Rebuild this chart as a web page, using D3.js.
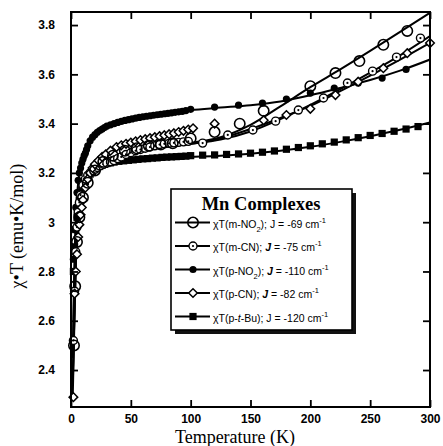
<!DOCTYPE html>
<html><head><meta charset="utf-8">
<script src="https://cdn.jsdelivr.net/npm/d3@7"></script>
<style>body{margin:0;background:#fff}svg{display:block}</style>
</head><body>
<svg id="c" width="443" height="446"></svg>
<script>
// ---- data ----
const xTicks = [0, 50, 100, 150, 200, 250, 300];
const yTicks = [2.4, 2.6, 2.8, 3.0, 3.2, 3.4, 3.6, 3.8];

// m-NO2 (large open circles)
const mno2T = [2.5,3.5,5,7,10,14,20,27,35,45,55,65,75,85,100,120,141,161,200,221,241,261,281];
const mno2V = [2.50,2.74,2.92,3.02,3.10,3.16,3.21,3.245,3.27,3.29,3.30,3.31,3.315,3.32,3.34,3.366,3.40,3.452,3.552,3.605,3.654,3.72,3.776];
const mno2FitT = [1.5,2.5,4,6,9,14,20,30,50,75,100,125,150,175,200,225,250,275,300];
const mno2FitV = [2.38,2.56,2.84,3.02,3.12,3.18,3.22,3.255,3.285,3.305,3.322,3.345,3.395,3.47,3.548,3.62,3.695,3.772,3.85];

// m-CN (circle with dot)
const mcnT = [2,3,4,5,6,7,8,10,12,14,16,18,20,22,24,27,30,33,36,39,42,46,50,54,58,62,66,70,74,78,82,86,90,94,98,110,131,152,171,190,211,231,252,272,292];
const mcnV = [2.52,2.72,2.88,2.98,3.04,3.08,3.11,3.15,3.175,3.19,3.20,3.21,3.215,3.222,3.228,3.235,3.24,3.245,3.25,3.258,3.265,3.275,3.282,3.29,3.295,3.30,3.305,3.31,3.315,3.318,3.32,3.322,3.324,3.326,3.328,3.321,3.354,3.374,3.41,3.455,3.504,3.565,3.613,3.67,3.747];
const mcnFitT = [1.5,2.5,4,6,9,14,20,30,50,75,100,125,150,175,200,225,250,275,300];
const mcnFitV = [2.34,2.55,2.85,3.01,3.11,3.18,3.22,3.255,3.285,3.305,3.318,3.335,3.368,3.418,3.476,3.54,3.607,3.677,3.755];

// p-NO2 (filled circles)
const pno2T = [2,3,4,5,6,7,8,9,10,11,12,13,14,16,18,20,22,24,26,28,30,33,36,39,42,45,48,51,54,57,60,63,66,69,72,75,78,81,84,87,90,93,96,100,120,140,160,180,200,220,240,260,280];
const pno2V = [2.85,2.97,3.06,3.12,3.17,3.20,3.22,3.24,3.255,3.27,3.28,3.295,3.31,3.33,3.345,3.355,3.365,3.372,3.378,3.384,3.39,3.395,3.40,3.405,3.409,3.413,3.416,3.419,3.422,3.425,3.428,3.43,3.432,3.434,3.436,3.438,3.44,3.442,3.444,3.446,3.448,3.45,3.453,3.458,3.467,3.475,3.483,3.50,3.524,3.544,3.565,3.585,3.62];
const pno2FitT = [1.5,2.5,4,6,9,14,20,30,50,75,100,125,150,175,200,225,250,275,300];
const pno2FitV = [2.45,2.75,3.02,3.16,3.25,3.31,3.35,3.39,3.42,3.44,3.455,3.465,3.475,3.49,3.515,3.545,3.577,3.615,3.66];

// p-CN (open diamonds)
const pcnT = [2,3,4,5,6,7,8,9,10,12,14,16,18,20,23,26,29,33,38,42,46,50,54,58,62,66,70,74,78,82,86,90,94,98,102,120,161,180,200,221,240,261,281,300];
const pcnV = [2.29,2.71,2.80,2.87,2.94,2.99,3.03,3.06,3.09,3.14,3.175,3.20,3.22,3.235,3.25,3.265,3.275,3.29,3.305,3.312,3.318,3.323,3.328,3.333,3.337,3.341,3.345,3.349,3.353,3.357,3.361,3.366,3.371,3.376,3.381,3.40,3.414,3.435,3.46,3.516,3.57,3.625,3.686,3.727];
const pcnFitT = [1.5,2.5,4,6,9,14,20,30,50,75,100,125,150,175,200,225,250,275,300];
const pcnFitV = [2.30,2.52,2.83,3.00,3.10,3.17,3.215,3.25,3.282,3.303,3.318,3.34,3.378,3.423,3.472,3.532,3.595,3.66,3.728];

// p-t-Bu (filled squares)
const ptbuT = [2,3,4,5,6,7,8,9,10,12,14,16,18,20,22,24,26,28,30,33,36,40,44,48,52,56,60,64,68,72,76,80,84,88,92,96,100,110,120,130,140,150,160,170,180,190,200,210,220,230,240,250,260,270,280,290];
const ptbuV = [2.80,2.90,2.97,3.02,3.06,3.09,3.11,3.13,3.145,3.165,3.18,3.195,3.205,3.213,3.22,3.226,3.231,3.235,3.238,3.241,3.244,3.247,3.249,3.251,3.253,3.255,3.257,3.258,3.26,3.261,3.263,3.264,3.265,3.266,3.267,3.268,3.27,3.272,3.273,3.275,3.277,3.28,3.284,3.289,3.296,3.303,3.31,3.318,3.325,3.334,3.343,3.352,3.36,3.369,3.378,3.388];
const ptbuFitT = [1.5,2.5,4,6,9,14,20,30,50,75,100,125,150,175,200,225,250,275,300];
const ptbuFitV = [2.45,2.70,2.92,3.05,3.13,3.18,3.21,3.235,3.25,3.26,3.265,3.27,3.278,3.29,3.306,3.326,3.349,3.375,3.405];

const seriesNames = ["m-NO2","m-CN","p-NO2","p-CN","p-t-Bu"];

// ---- chart ----
const svg = d3.select("#c");
const x = d3.scaleLinear().domain([0, 300]).range([71, 430]);
const y = d3.scaleLinear().domain([2.25, 3.853]).range([407, 12]);

const zip = (a, b) => a.map((t, i) => [t, b[i]]);
const series = [
  {name: "m-NO2", pts: zip(mno2T, mno2V), fit: zip(mno2FitT, mno2FitV), m: "bigcircle"},
  {name: "m-CN", pts: zip(mcnT, mcnV), fit: zip(mcnFitT, mcnFitV), m: "dotcircle"},
  {name: "p-NO2", pts: zip(pno2T, pno2V), fit: zip(pno2FitT, pno2FitV), m: "filledcircle"},
  {name: "p-CN", pts: zip(pcnT, pcnV), fit: zip(pcnFitT, pcnFitV), m: "diamond"},
  {name: "p-t-Bu", pts: zip(ptbuT, ptbuV), fit: zip(ptbuFitT, ptbuFitV), m: "square"}
];

const plot = svg.append("g");
svg.append("defs").append("clipPath").attr("id","clip").append("rect")
  .attr("x",71).attr("y",12).attr("width",359).attr("height",395);

const line = d3.line().x(d => x(d[0])).y(d => y(d[1])).curve(d3.curveMonotoneX);

function drawMarker(g, type, cx, cy) {
  if (type === "bigcircle") {
    g.append("circle").attr("cx", cx).attr("cy", cy).attr("r", 5.2)
      .attr("fill", "none").attr("stroke", "#000").attr("stroke-width", 1.6);
  } else if (type === "dotcircle") {
    g.append("circle").attr("cx", cx).attr("cy", cy).attr("r", 4)
      .attr("fill", "#fff").attr("stroke", "#000").attr("stroke-width", 1.4);
    g.append("circle").attr("cx", cx).attr("cy", cy).attr("r", 1.1).attr("fill", "#000");
  } else if (type === "filledcircle") {
    g.append("circle").attr("cx", cx).attr("cy", cy).attr("r", 3.6).attr("fill", "#000");
  } else if (type === "diamond") {
    const s = 4.3;
    g.append("path").attr("d", `M${cx},${cy-s}L${cx+s},${cy}L${cx},${cy+s}L${cx-s},${cy}Z`)
      .attr("fill", "#fff").attr("stroke", "#000").attr("stroke-width", 1.5);
  } else if (type === "square") {
    g.append("rect").attr("x", cx-3.6).attr("y", cy-3.6).attr("width", 7.2).attr("height", 7.2).attr("fill", "#000");
  }
}

const lines = plot.append("g").attr("clip-path","url(#clip)");
series.forEach(s => {
  lines.append("path").attr("d", line(s.fit)).attr("fill","none")
    .attr("stroke","#000").attr("stroke-width",2);
});
const marks = plot.append("g");
// draw order: squares, filled circles, dot circles, diamonds, big circles
[4,2,1,3,0].forEach(i => {
  const s = series[i];
  s.pts.forEach(p => drawMarker(marks, s.m, x(p[0]), y(p[1])));
});

// axes
const fmt = d => String(+d.toFixed(1));
const axB = svg.append("g").attr("transform","translate(0,407)")
  .call(d3.axisBottom(x).tickValues(xTicks).tickSize(-7).tickPadding(7).tickFormat(d3.format("d")));
const axT = svg.append("g").attr("transform","translate(0,12)")
  .call(d3.axisTop(x).tickValues(xTicks).tickSize(-7).tickFormat(""));
const axL = svg.append("g").attr("transform","translate(71,0)")
  .call(d3.axisLeft(y).tickValues(yTicks).tickSize(-7).tickPadding(16).tickFormat(fmt));
const axR = svg.append("g").attr("transform","translate(430,0)")
  .call(d3.axisRight(y).tickValues(yTicks).tickSize(-7).tickFormat(""));
[axB, axT, axL, axR].forEach(a => {
  a.select(".domain").remove();
  a.selectAll(".tick line").attr("stroke","#000").attr("stroke-width",1.8);
  a.selectAll(".tick text").attr("fill","#000")
    .style("font-family","Arial, 'Liberation Sans', sans-serif")
    .style("font-weight","bold").style("font-size","12px");
});
svg.append("rect").attr("x",71).attr("y",12).attr("width",359).attr("height",395)
  .attr("fill","none").attr("stroke","#000").attr("stroke-width",2);

// axis titles
svg.append("text").attr("x",235).attr("y",443).attr("text-anchor","middle")
  .style("font-family","'Liberation Serif', 'Times New Roman', serif").style("font-size","18px")
  .text("Temperature (K)");
svg.append("text").attr("transform","translate(23,226) rotate(-90)").attr("text-anchor","middle")
  .style("font-family","'Liberation Serif', 'Times New Roman', serif").style("font-size","18px")
  .text("χ•T (emu•K/mol)");

// legend
const lg = svg.append("g");
lg.append("rect").attr("x",175).attr("y",193).attr("width",181).attr("height",141).attr("fill","#111");
lg.append("rect").attr("x",171).attr("y",189).attr("width",181).attr("height",141)
  .attr("fill","#fff").attr("stroke","#000").attr("stroke-width",1.6);
lg.append("text").attr("x",261).attr("y",210).attr("text-anchor","middle")
  .style("font-family","'Liberation Serif', 'Times New Roman', serif").style("font-size","18.5px")
  .style("font-weight","bold").text("Mn Complexes");

const legRows = [
  {pre: "χT(m-NO", sub: "2", mid: "); ", J: "J", jStyle: "plain", post: " = -69 cm", sup: "-1"},
  {pre: "χT(m-CN); ", sub: "", mid: "", J: "J", jStyle: "bold", post: " = -75 cm", sup: "-1"},
  {pre: "χT(p-NO", sub: "2", mid: "); ", J: "J", jStyle: "bold", post: " = -110 cm", sup: "-1"},
  {pre: "χT(p-CN); ", sub: "", mid: "", J: "J", jStyle: "bold", post: " = -82 cm", sup: "-1"},
  {pre: "χT(p-", sub: "", mid: "", J: "", jStyle: "plain", post: "", sup: "", special: true}
];
const rowY = [222.5, 246, 269.5, 293, 316.5];
series.forEach((s, i) => {
  const yy = rowY[i];
  lg.append("line").attr("x1",175).attr("x2",210).attr("y1",yy).attr("y2",yy)
    .attr("stroke","#000").attr("stroke-width",2);
  drawMarker(lg, s.m, 193, yy);
  const t = lg.append("text").attr("x",213).attr("y",yy+5)
    .style("font-family","Arial, 'Liberation Sans', sans-serif").style("font-size","10.5px");
  const r = legRows[i];
  if (r.special) {
    t.append("tspan").text("χT(p-");
    t.append("tspan").style("font-style","italic").text("t");
    t.append("tspan").text("-Bu); J = -120 cm");
    t.append("tspan").attr("dy",-5).style("font-size","7.5px").text("-1");
  } else {
    t.append("tspan").text(r.pre);
    if (r.sub) {
      t.append("tspan").attr("dy",4).style("font-size","7.5px").text(r.sub);
      t.append("tspan").attr("dy",-4).text(r.mid);
    }
    const j = t.append("tspan").text(r.J);
    if (r.jStyle === "bold") j.style("font-weight","bold").style("font-style","italic");
    t.append("tspan").text(r.post);
    t.append("tspan").attr("dy",-5).style("font-size","7.5px").text(r.sup);
  }
});
</script>
</body></html>
